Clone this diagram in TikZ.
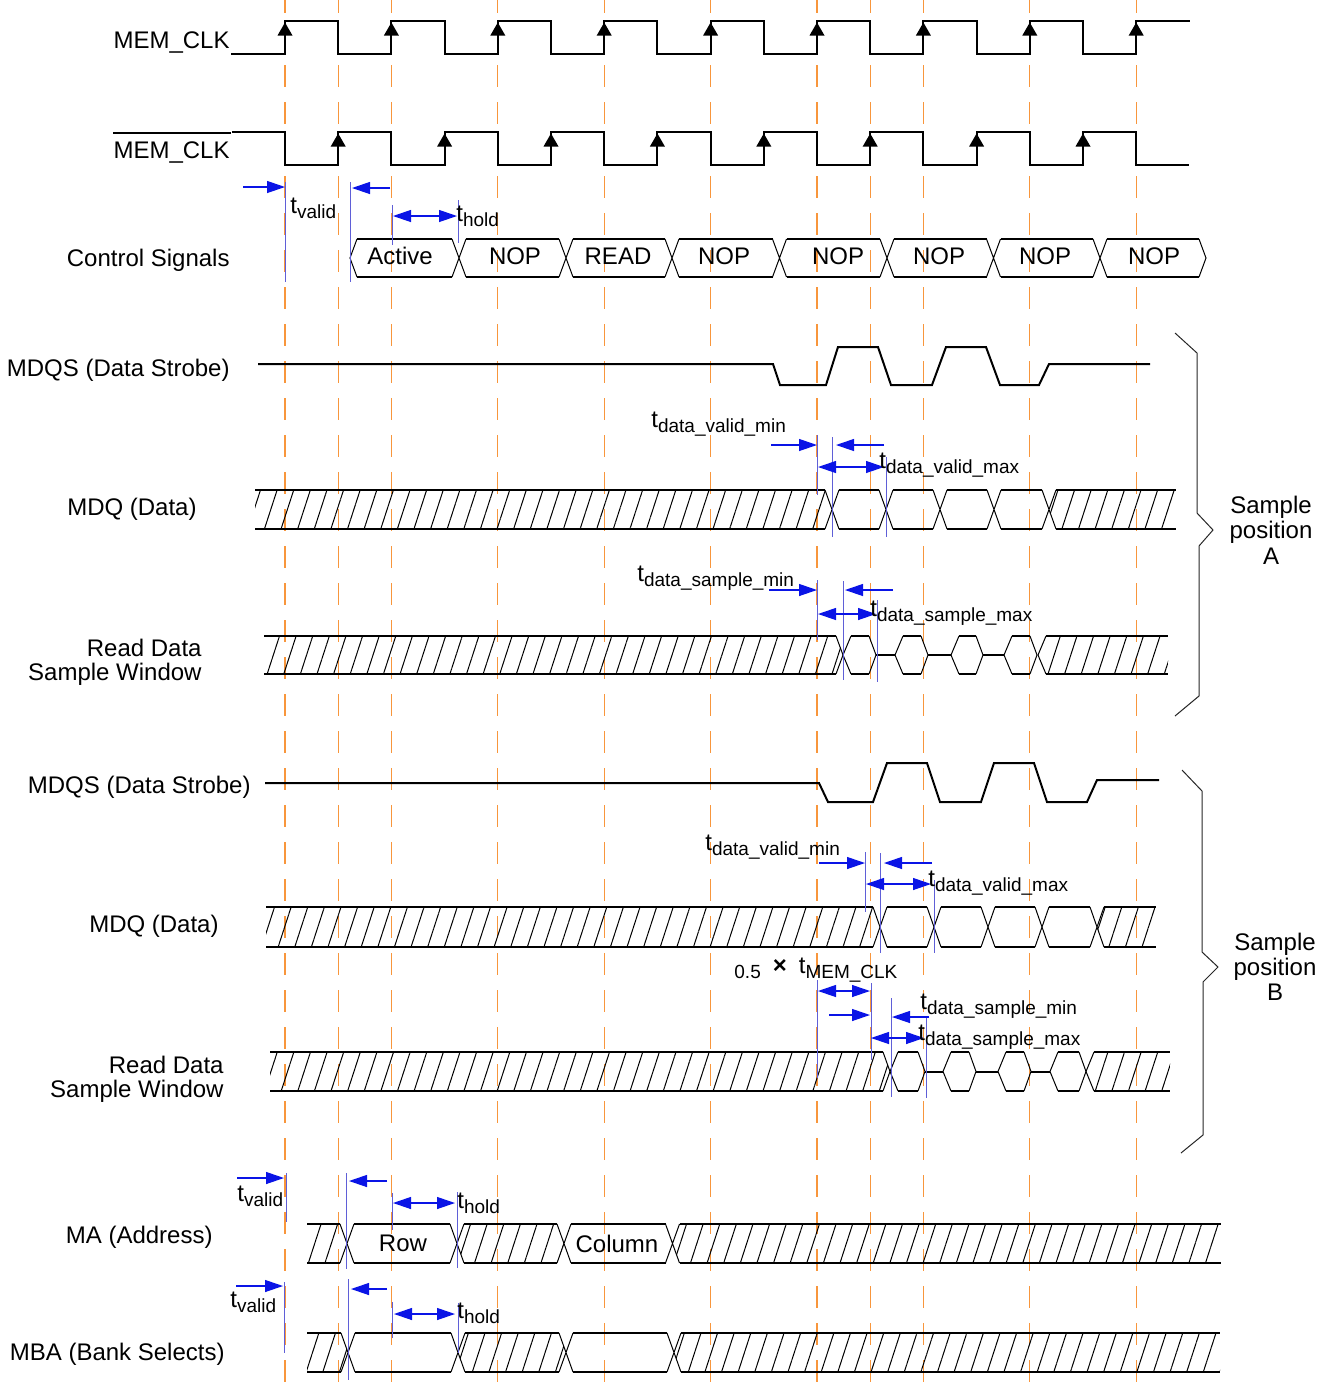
\documentclass[tikz,border=0pt]{standalone}
\usepackage{fontspec}
\setmainfont{Liberation Sans}
\usetikzlibrary{arrows.meta, patterns.meta}

\definecolor{gridorange}{RGB}{248,150,60}
\definecolor{dimblue}{RGB}{10,20,230}
\definecolor{markblue}{RGB}{95,95,215}

% t with a lowered index, as in the timing labels
\newcommand{\tsub}[1]{t\raisebox{-2.8pt}{\fontsize{9.5}{10}\selectfont #1}}

\begin{document}
\begin{tikzpicture}[x=0.5pt, y=-0.5pt,
    lbl/.style={font=\fontsize{12}{12}\selectfont, inner sep=0pt},
    gridline/.style={gridorange, line width=0.65pt, dash pattern=on 11pt off 7.5pt, dash phase=4.5pt},
    sigline/.style={line width=1pt, line join=miter},
    busline/.style={line width=1pt},
    slant/.style={line width=0.5pt},
    hatch/.style={pattern={Lines[angle=72, distance=7.9pt, line width=0.5pt]}},
    dim/.style={dimblue, line width=0.6pt, -{Triangle[length=9pt, width=6pt]}},
    dimboth/.style={dimblue, line width=0.6pt, {Triangle[length=9pt, width=6pt]}-{Triangle[length=9pt, width=6pt]}},
    tmark/.style={markblue, line width=0.5pt},
    brace/.style={black!85, line width=0.5pt, line join=miter}]
  \useasboundingbox (0,0) rectangle (1328,1394);

  % clock grid, half period 53.2
  \foreach \k in {0,1,2,4,6,8,10,11,12,14,16}
    \draw[gridline] ({285+53.2*\k},0) -- ({285+53.2*\k},1394);

  % MEM_CLK and its complement
  \node[lbl, anchor=base east] (clk) at (230,48.5) {MEM\_CLK};
  \node[lbl, anchor=base east] (clkn) at (230,158.5) {MEM\_CLK};
  \draw[line width=0.6pt] (clkn.west |- 0,133) -- (231,133);   % overline of the label
  \draw[sigline] (231,54) \foreach \k in {0,2,...,14} {
      -- ({285+53.2*\k},54) -- ({285+53.2*\k},21) -- ({285+53.2*(\k+1)},21) -- ({285+53.2*(\k+1)},54)}
    -- (1136.2,54) -- (1136.2,21) -- (1190,21);
  \draw[sigline] (232,132) \foreach \k in {0,2,...,14} {
      -- ({285+53.2*\k},132) -- ({285+53.2*\k},165) -- ({285+53.2*(\k+1)},165) -- ({285+53.2*(\k+1)},132)}
    -- (1136.2,132) -- (1136.2,165) -- (1189,165);
  \foreach \k in {0,2,...,16}   % rising edges of MEM_CLK
    \fill ({285+53.2*\k},22.5) -- ++(-7.5,13) -- ++(15,0) -- cycle;
  \foreach \k in {1,3,...,15}   % rising edges of the complement
    \fill ({285+53.2*\k},133.5) -- ++(-7.5,13) -- ++(15,0) -- cycle;

  % Control Signals
  \node[lbl, anchor=base east] (ctl) at (230,266.5) {Control Signals};
  \foreach \a/\b in {350/459, 459/566, 566/672, 672/779.5, 779.5/887, 887/993.5, 993.5/1100, 1100/1206}
    \draw[busline] (\a+7,239) -- (\b-7,239) (\a+7,277) -- (\b-7,277);
  \foreach \x/\txt [count=\i] in {400/Active, 515/NOP, 618/READ, 724/NOP, 838/NOP, 939/NOP, 1045/NOP, 1154/NOP}
    \node[lbl] (cmd\i) at (\x,256) {\txt};
  \foreach \c in {459,566,672,779.5,887,993.5,1100}
    \draw[slant] (\c-7,239) -- (\c+7,277) (\c-7,277) -- (\c+7,239);
  \draw[slant] (357,239) -- (350,258) -- (357,277);
  \draw[slant] (1199,239) -- (1206,258) -- (1199,277);
  \draw[dim] (243,187) -- (285,187);
  \draw[tmark] (285,182) -- (285,282);
  \draw[tmark] (350,182) -- (350,282);
  \draw[dim] (390,188) -- (352,188);
  \draw[tmark] (392,205) -- (392,245);
  \draw[dimboth] (393,216) -- (457,216);
  \draw[tmark] (458,200) -- (458,243);
  \node[lbl, anchor=base west] (ctlvalid) at (290,213) {\tsub{valid}};
  \node[lbl, anchor=base west] (ctlhold) at (456,221) {\tsub{hold}};

  % ---------------- sample position A ----------------
  \node[lbl, anchor=base east] (dqsA) at (230,376.5) {MDQS (Data Strobe)};
  \draw[sigline] (258,364) -- (773,364) -- (780,385) -- (826,385) -- (838,347) -- (878,347)
    -- (891,385) -- (932,385) -- (946,347) -- (986,347) -- (1000,385) -- (1039,385)
    -- (1049,364) -- (1150,364);

  % MDQ (Data)
  \node[lbl, anchor=base east] (dqA) at (197,515) {MDQ (Data)};
  \fill[hatch] (255,490) -- (825,490) -- (832,509.5) -- (825,529) -- (255,529) -- cycle;
  \fill[hatch] (1176,490) -- (1056,490) -- (1049,509.5) -- (1056,529) -- (1176,529) -- cycle;
  \foreach \a/\b in {255/825, 839/879, 893/933, 947/987, 1001/1042, 1056/1176}
    \draw[busline] (\a,490) -- (\b,490) (\a,529) -- (\b,529);
  \foreach \c in {832,886,940,994,1049}
    \draw[slant] (\c-7,490) -- (\c+7,529) (\c-7,529) -- (\c+7,490);
  \draw[dim] (771,445) -- (817,445);
  \draw[tmark] (817,435) -- (817,495);
  \draw[dim] (884,445) -- (836,445);
  \draw[tmark] (832,437) -- (832,537);
  \draw[dimboth] (818,467) -- (884,467);
  \draw[tmark] (886,457) -- (886,537);
  \node[lbl, anchor=base west] (vminA) at (651,427) {\tsub{data\_valid\_min}};
  \node[lbl, anchor=base west] (vmaxA) at (879,468) {\tsub{data\_valid\_max}};

  % Read Data Sample Window
  \node[lbl, anchor=east, align=right] (winA) at (202,662) {Read Data\\Sample Window};
  \fill[hatch] (264,636) -- (836,636) -- (843,655) -- (836,674) -- (264,674) -- cycle;
  \draw[busline] (264,636) -- (836,636) (264,674) -- (836,674);
  \draw[slant] (836,636) -- (843,655) -- (836,674);
  \foreach \a/\b in {843/876, 895/928, 951/983, 1004/1037} {
    \draw[slant] (\a+8,636) -- (\a,655) -- (\a+8,674) (\b-7,636) -- (\b,655) -- (\b-7,674);
    \draw[busline] (\a+8,636) -- (\b-7,636) (\a+8,674) -- (\b-7,674);
  }
  \draw[busline] (876,655) -- (895,655) (928,655) -- (951,655) (983,655) -- (1004,655);
  \fill[hatch] (1168,636) -- (1046,636) -- (1038,655) -- (1046,674) -- (1168,674) -- cycle;
  \draw[busline] (1046,636) -- (1168,636) (1046,674) -- (1168,674);
  \draw[slant] (1046,636) -- (1038,655) -- (1046,674);
  \draw[dim] (769,590) -- (817,590);
  \draw[tmark] (817,580) -- (817,640);
  \draw[dim] (893,590) -- (845,590);
  \draw[tmark] (843,581) -- (843,680);
  \draw[dimboth] (818,614) -- (876,614);
  \draw[tmark] (877,600) -- (877,682);
  \node[lbl, anchor=base west] (sminA) at (637,581) {\tsub{data\_sample\_min}};
  \node[lbl, anchor=base west] (smaxA) at (870,616) {\tsub{data\_sample\_max}};

  \draw[brace] (1175,333) -- (1197,353) -- (1197,513) -- (1213,530) -- (1199,546) -- (1199,696) -- (1175,716);
  \node[lbl, align=center, font=\fontsize{12}{12.75}\selectfont] (posA) at (1271,530) {Sample\\position\\A};

  % ---------------- sample position B ----------------
  \node[lbl, anchor=base east] (dqsB) at (251,793.5) {MDQS (Data Strobe)};
  \draw[sigline] (265,783) -- (819,783) -- (828,802) -- (873,802) -- (887,763) -- (927,763)
    -- (940,802) -- (981,802) -- (994,763) -- (1034,763) -- (1047,802) -- (1087,802)
    -- (1097,780) -- (1159,780);

  % MDQ (Data)
  \node[lbl, anchor=base east] (dqB) at (219,932) {MDQ (Data)};
  \fill[hatch] (266,907) -- (873,907) -- (880,927) -- (873,947) -- (266,947) -- cycle;
  \fill[hatch] (1156,907) -- (1104,907) -- (1097,927) -- (1104,947) -- (1156,947) -- cycle;
  \foreach \a/\b in {266/873, 887/927, 941/981, 995/1035, 1049/1090, 1104/1156}
    \draw[busline] (\a,907) -- (\b,907) (\a,947) -- (\b,947);
  \foreach \c in {880,934,988,1042,1097}
    \draw[slant] (\c-7,907) -- (\c+7,947) (\c-7,947) -- (\c+7,907);
  \draw[dim] (819,863) -- (865,863);
  \draw[tmark] (865,852) -- (865,912);
  \draw[dim] (932,863) -- (884,863);
  \draw[tmark] (880,853) -- (880,953);
  \draw[dimboth] (866,884) -- (931,884);
  \draw[tmark] (934,880) -- (934,953);
  \node[lbl, anchor=base west] (vminB) at (705,850) {\tsub{data\_valid\_min}};
  \node[lbl, anchor=base west] (vmaxB) at (928,886) {\tsub{data\_valid\_max}};

  % Read Data Sample Window
  \node[lbl, anchor=east, align=right] (winB) at (224,1079) {Read Data\\Sample Window};
  \fill[hatch] (270,1052) -- (883,1052) -- (890,1071.5) -- (883,1091) -- (270,1091) -- cycle;
  \draw[busline] (270,1052) -- (883,1052) (270,1091) -- (883,1091);
  \draw[slant] (883,1052) -- (890,1071.5) -- (883,1091);
  \foreach \a/\b in {890/925, 943/976, 998/1031, 1050/1086} {
    \draw[slant] (\a+8,1052) -- (\a,1071.5) -- (\a+8,1091) (\b-7,1052) -- (\b,1071.5) -- (\b-7,1091);
    \draw[busline] (\a+8,1052) -- (\b-7,1052) (\a+8,1091) -- (\b-7,1091);
  }
  \draw[busline] (925,1071.5) -- (943,1071.5) (976,1071.5) -- (998,1071.5) (1031,1071.5) -- (1050,1071.5);
  \fill[hatch] (1170,1052) -- (1094,1052) -- (1086,1071.5) -- (1094,1091) -- (1170,1091) -- cycle;
  \draw[busline] (1094,1052) -- (1170,1052) (1094,1091) -- (1170,1091);
  \draw[slant] (1094,1052) -- (1086,1071.5) -- (1094,1091);
  \draw[tmark] (817,980) -- (817,1078);
  \draw[dimboth] (818,991) -- (870,991);
  \draw[tmark] (871,983) -- (871,1060);
  \draw[dim] (829,1015) -- (870,1015);
  \draw[tmark] (891,998) -- (891,1097);
  \draw[dim] (929,1017) -- (892,1017);
  \draw[dimboth] (871,1038) -- (924,1038);
  \draw[tmark] (926,1018) -- (926,1098);
  \node[lbl, anchor=base west] (halfclk) at (734,973)
    {\raisebox{-2.8pt}{\fontsize{9.5}{10}\selectfont 0.5}\hspace{6pt}\textbf{×}\hspace{6pt}\tsub{MEM\_CLK}};
  \node[lbl, anchor=base west] (sminB) at (920,1009) {\tsub{data\_sample\_min}};
  \node[lbl, anchor=base west] (smaxB) at (918,1040) {\tsub{data\_sample\_max}};

  \draw[brace] (1182,770) -- (1202,791) -- (1202,952) -- (1218,967) -- (1203,982) -- (1203,1135) -- (1181,1153);
  \node[lbl, align=center, font=\fontsize{12}{12.5}\selectfont] (posB) at (1275,967) {Sample\\position\\B};

  % ---------------- MA (Address) ----------------
  \node[lbl, anchor=base east] (ma) at (213,1243.5) {MA (Address)};
  \fill[hatch] (307,1224) -- (340,1224) -- (347,1243.5) -- (340,1263) -- (307,1263) -- cycle;
  \fill[hatch] (464,1224) -- (557,1224) -- (564,1243.5) -- (557,1263) -- (464,1263) -- (457,1243.5) -- cycle;
  \fill[hatch] (679.5,1224) -- (1221,1224) -- (1221,1263) -- (679.5,1263) -- (672.5,1243.5) -- cycle;
  \foreach \a/\b in {307/340, 354/450, 464/557, 571/665.5, 679.5/1221}
    \draw[busline] (\a,1224) -- (\b,1224) (\a,1263) -- (\b,1263);
  \foreach \c in {347,457,564,672.5}
    \draw[slant] (\c-7,1224) -- (\c+7,1263) (\c-7,1263) -- (\c+7,1224);
  \node[lbl] (row) at (403,1243.5) {Row};
  \node[lbl] (col) at (617,1243.5) {Column};
  \draw[dim] (237,1178) -- (284,1178);
  \draw[tmark] (286,1173) -- (286,1222);
  \draw[tmark] (346,1173) -- (346,1269);
  \draw[dim] (387,1181) -- (349,1181);
  \draw[tmark] (392,1193) -- (392,1230);
  \draw[dimboth] (393,1203) -- (455,1203);
  \draw[tmark] (457,1192) -- (457,1268);
  \node[lbl, anchor=base west] (mavalid) at (237,1201) {\tsub{valid}};
  \node[lbl, anchor=base west] (mahold) at (457,1208) {\tsub{hold}};

  % ---------------- MBA (Bank Selects) ----------------
  \node[lbl, anchor=base east] (mba) at (225,1360.5) {MBA (Bank Selects)};
  \fill[hatch] (307,1333) -- (341,1333) -- (348,1352.5) -- (341,1372) -- (307,1372) -- cycle;
  \fill[hatch] (465,1333) -- (559,1333) -- (566,1352.5) -- (559,1372) -- (465,1372) -- (458,1352.5) -- cycle;
  \fill[hatch] (681,1333) -- (1220,1333) -- (1220,1372) -- (681,1372) -- (674,1352.5) -- cycle;
  \foreach \a/\b in {307/341, 355/451, 465/559, 573/667, 681/1220}
    \draw[busline] (\a,1333) -- (\b,1333) (\a,1372) -- (\b,1372);
  \foreach \c in {348,458,566,674}
    \draw[slant] (\c-7,1333) -- (\c+7,1372) (\c-7,1372) -- (\c+7,1333);
  \draw[dim] (236,1286) -- (283,1286);
  \draw[tmark] (284,1282) -- (284,1353);
  \draw[tmark] (348,1279) -- (348,1380);
  \draw[dim] (387,1289) -- (351,1289);
  \draw[tmark] (392,1302) -- (392,1338);
  \draw[dimboth] (394,1314) -- (455,1314);
  \draw[tmark] (458,1303) -- (458,1353);
  \node[lbl, anchor=base west] (mbavalid) at (230,1307) {\tsub{valid}};
  \node[lbl, anchor=base west] (mbahold) at (457,1318) {\tsub{hold}};
\end{tikzpicture}
\end{document}
